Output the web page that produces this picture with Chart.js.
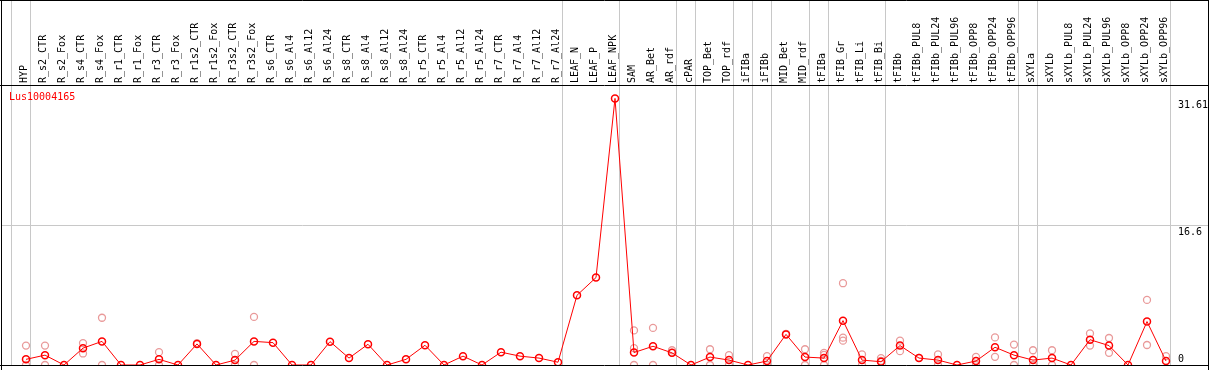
<!DOCTYPE html>
<html>
<head>
<meta charset="utf-8">
<script src="https://cdn.jsdelivr.net/npm/chart.js@4/dist/chart.umd.min.js"></script>
<style>
  body { margin: 0; background: #fff; }
  #wrap { width: 1209px; height: 370px; }
</style>
</head>
<body>
<div id="wrap"><canvas id="myChart" width="1209" height="370"></canvas></div>
<script>
// sample names, one column each
const labels = ['HYP', 'R_s2_CTR', 'R_s2_Fox', 'R_s4_CTR', 'R_s4_Fox', 'R_r1_CTR', 'R_r1_Fox', 'R_r3_CTR', 'R_r3_Fox',
  'R_r1s2_CTR', 'R_r1s2_Fox', 'R_r3s2_CTR', 'R_r3s2_Fox', 'R_s6_CTR', 'R_s6_Al4', 'R_s6_Al12', 'R_s6_Al24',
  'R_s8_CTR', 'R_s8_Al4', 'R_s8_Al12', 'R_s8_Al24', 'R_r5_CTR', 'R_r5_Al4', 'R_r5_Al12', 'R_r5_Al24',
  'R_r7_CTR', 'R_r7_Al4', 'R_r7_Al12', 'R_r7_Al24', 'LEAF_N', 'LEAF_P', 'LEAF_NPK', 'SAM', 'AR_Bet', 'AR_rdf',
  'cPAR', 'TOP_Bet', 'TOP_rdf', 'iFIBa', 'iFIBb', 'MID_Bet', 'MID_rdf', 'tFIBa', 'tFIB_Gr', 'tFIB_Li', 'tFIB_Bi',
  'tFIBb', 'tFIBb_PUL8', 'tFIBb_PUL24', 'tFIBb_PUL96', 'tFIBb_OPP8', 'tFIBb_OPP24', 'tFIBb_OPP96',
  'sXYLa', 'sXYLb', 'sXYLb_PUL8', 'sXYLb_PUL24', 'sXYLb_PUL96', 'sXYLb_OPP8', 'sXYLb_OPP24', 'sXYLb_OPP96'];

// mean expression (the red line)
const meanValues = [0.67, 1.17, 0, 2.0, 2.8, 0, 0, 0.67, 0,
  2.5, 0, 0.58, 2.8, 2.65, 0, 0, 2.77,
  0.82, 2.46, 0, 0.67, 2.34, 0, 1.05, 0,
  1.52, 1.05, 0.82, 0.33, 8.27, 10.37, 31.61, 1.48, 2.22, 1.44,
  0, 0.94, 0.58, 0, 0.47, 3.63, 0.94, 0.82, 5.26, 0.58, 0.39,
  2.3, 0.82, 0.58, 0, 0.47, 2.1, 1.17,
  0.58, 0.82, 0, 3.0, 2.3, 0, 5.15, 0.47];

// replicates (pale circles), null = none
const rep1 = [2.3, 2.3, null, 2.6, 5.6, null, null, 1.52, null,
  2.6, null, 1.32, 5.7, null, null, null, null,
  null, null, null, null, null, null, null, null,
  null, null, null, null, null, null, null, 4.1, 4.4, 1.75,
  null, 1.87, 1.17, null, 1.05, 3.7, 1.87, 1.44, 9.7, 1.25, 0.82,
  2.89, 0.85, 1.25, null, 0.97, 3.27, 2.42,
  1.75, 1.75, null, 3.74, 3.2, null, 7.72, 1.05];
const rep2 = [0, 0, null, 1.37, 0, null, null, 0, null,
  null, null, 0, 0, null, null, null, null,
  null, null, null, null, null, null, null, null,
  null, null, null, null, null, null, null, 2.0, 0, 1.44,
  null, 0, 0, null, 0, null, 0, 1.2, 3.24, 0, 0.5,
  1.64, null, 0, null, 0, 0.97, 0,
  0, 0, null, 2.3, 1.44, null, 2.37, null];
const rep3 = [null, null, null, null, null, null, null, null, null,
  null, null, null, null, null, null, null, null,
  null, null, null, null, null, null, null, null,
  null, null, null, null, null, null, null, 0, null, null,
  null, null, null, null, null, null, null, 0, 2.89, null, null,
  null, null, null, null, null, null, null,
  null, null, null, null, null, null, null, null];

// grey group separators: drawn just right of these columns
const separatorsAfter = [-1, 0, 28, 31, 34, 35, 37, 38, 39, 41, 42, 45, 52, 53, 60];
const yTickValues = [0, 16.6, 31.61];
const yMax = 33.2;
const geneName = 'Lus10004165';

const monoFont = "'DejaVu Sans Mono', 'Liberation Mono', monospace";

const framePlugin = {
  id: 'frame',
  beforeDatasetsDraw(chart) {
    const ctx = chart.ctx;
    const xs = chart.scales.x, ys = chart.scales.y;
    const x0 = xs.getPixelForValue(0);
    const step = xs.getPixelForValue(1) - x0;
    ctx.save();
    ctx.strokeStyle = '#c8c8c8';
    ctx.lineWidth = 1;
    separatorsAfter.forEach(i => {
      const px = Math.round(x0 + i * step + 4) + 0.5;
      ctx.beginPath();
      ctx.moveTo(px, 0);
      ctx.lineTo(px, chart.chartArea.bottom);
      ctx.stroke();
    });
    const gy = Math.round(ys.getPixelForValue(yTickValues[1])) + 0.5;
    ctx.beginPath();
    ctx.moveTo(1, gy);
    ctx.lineTo(1208, gy);
    ctx.stroke();
    ctx.restore();
  },
  afterDraw(chart) {
    const ctx = chart.ctx;
    const ys = chart.scales.y;
    const area = chart.chartArea;
    ctx.save();
    ctx.strokeStyle = '#000';
    ctx.lineWidth = 1;
    ctx.beginPath();
    ctx.moveTo(1.5, 0); ctx.lineTo(1.5, 370);
    ctx.moveTo(1208.5, 0); ctx.lineTo(1208.5, 370);
    ctx.moveTo(0, 0.5); ctx.lineTo(1209, 0.5);
    ctx.moveTo(0, Math.round(area.top) + 0.5); ctx.lineTo(1209, Math.round(area.top) + 0.5);
    ctx.moveTo(0, Math.round(area.bottom) + 0.5); ctx.lineTo(1209, Math.round(area.bottom) + 0.5);
    ctx.stroke();

    ctx.font = '10px ' + monoFont;
    ctx.fillStyle = '#ff0000';
    ctx.textAlign = 'left';
    ctx.textBaseline = 'middle';
    ctx.fillText(geneName, 9, area.top + 12);

    ctx.fillStyle = '#000';
    ctx.textBaseline = 'alphabetic';
    yTickValues.forEach(v => {
      const py = ys.getPixelForValue(v);
      // labels hang below their level, the zero label sits above the base line
      ctx.fillText(String(v), 1178, v === 0 ? py - 3 : py + 10);
    });
    ctx.restore();
  }
};

function repSet(values) {
  return {
    data: values,
    showLine: false,
    borderColor: '#e99a9a',
    pointBorderColor: '#e99a9a',
    pointBackgroundColor: 'rgba(0,0,0,0)',
    pointRadius: 3.5,
    pointBorderWidth: 1.3,
    pointHoverRadius: 3.5
  };
}

const myChart = new Chart('myChart', {
  type: 'line',
  data: {
    labels: labels,
    datasets: [{
      data: meanValues,
      borderColor: '#ff0000',
      borderWidth: 1,
      tension: 0,
      pointBorderColor: '#ff0000',
      pointBackgroundColor: 'rgba(0,0,0,0)',
      pointRadius: 3.5,
      pointBorderWidth: 1.5,
      pointHoverRadius: 3.5
    }, repSet(rep1), repSet(rep2), repSet(rep3)]
  },
  options: {
    responsive: false,
    animation: false,
    layout: { padding: { left: 16.5, right: 33.5, top: 0, bottom: 1 } },
    plugins: { legend: { display: false }, tooltip: { enabled: false } },
    scales: {
      x: {
        type: 'category',
        position: 'top',
        offset: true,
        grid: { display: false, drawTicks: false },
        border: { display: false },
        ticks: {
          autoSkip: false,
          maxRotation: 90,
          minRotation: 90,
          padding: 2,
          labelOffset: 10,
          color: '#000',
          font: { family: monoFont, size: 10 }
        },
        afterFit(s) { s.height = 85; }
      },
      y: {
        display: false,
        min: 0,
        max: yMax
      }
    }
  },
  plugins: [framePlugin]
});
</script>
</body>
</html>
